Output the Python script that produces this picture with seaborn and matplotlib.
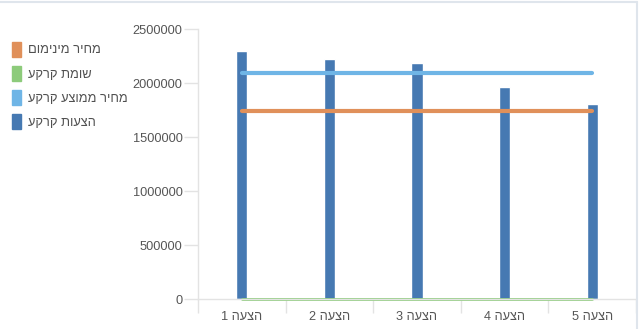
import numpy as np
import pandas as pd
import matplotlib
matplotlib.use("Agg")
import matplotlib.pyplot as plt
import matplotlib.patches as mpatches
import seaborn as sns

# ---- data ----
categories = ["הצעה 1", "הצעה 2", "הצעה 3", "הצעה 4", "הצעה 5"]
bids = [2295000, 2225000, 2185000, 1965000, 1808000]          # הצעות קרקע
avg_price = [2093000, 2093000, 2093000, 2093000, 2093000]     # מחיר ממוצע קרקע
min_price = [1745000, 1745000, 1745000, 1745000, 1745000]     # מחיר מינימום
assessment = [0, 0, 0, 0, 0]                                   # שומת קרקע
yticks = [0, 500000, 1000000, 1500000, 2000000, 2500000]

legend_labels = ["מחיר מינימום", "שומת קרקע", "מחיר ממוצע קרקע", "הצעות קרקע"]

def vis(s):
    # matplotlib has no bidi support: put RTL text into visual order
    return s[::-1]

C_BAR = "#4679B2"
C_AVG = "#6FB5E6"
C_MIN = "#E0905A"
C_ASS = "#8DCB7B"

sns.set_theme(style="white")
plt.rcParams["font.family"] = ["Liberation Sans", "DejaVu Sans"]

fig = plt.figure(figsize=(6.4, 3.29), dpi=100)
ax = fig.add_axes([198/640, 1-299/329, (636-198)/640, (299-29)/329])

df = pd.DataFrame({"cat": [vis(c) for c in categories], "bids": bids})
sns.barplot(data=df, x="cat", y="bids", color=C_BAR, saturation=1,
            width=0.13, ax=ax)

idx = np.arange(len(categories))
sns.lineplot(x=idx, y=avg_price, color=C_AVG, lw=3, ax=ax)
sns.lineplot(x=idx, y=min_price, color=C_MIN, lw=3, ax=ax)
sns.lineplot(x=idx, y=assessment, color=C_ASS, lw=2, ax=ax, clip_on=False)

ax.set_xlim(-0.5, len(categories) - 0.5)
ax.set_ylim(0, 2500000)
ax.set_yticks(yticks)
ax.set_yticklabels([str(v) for v in yticks])
ax.set_xticks(idx)
ax.set_xticklabels([vis(c) for c in categories])
ax.set_xticks(np.arange(len(categories) + 1) - 0.5, minor=True)
ax.set_xlabel("")
ax.set_ylabel("")

for s in ["top", "right"]:
    ax.spines[s].set_visible(False)
for s in ["left", "bottom"]:
    ax.spines[s].set_color("#e3e3e3")
    ax.spines[s].set_linewidth(1)

ax.tick_params(axis="y", which="major", length=10, width=1, color="#e3e3e3",
               labelsize=9.2, labelcolor="#555555", pad=1, left=True)
ax.tick_params(axis="x", which="major", length=0, labelsize=9.2,
               labelcolor="#555555", pad=9)
ax.tick_params(axis="x", which="minor", length=10, width=1, color="#e3e3e3",
               bottom=True)

handles = [mpatches.Patch(color=c) for c in [C_MIN, C_ASS, C_AVG, C_BAR]]
fig.legend(handles, [vis(l) for l in legend_labels], loc="upper left",
           bbox_to_anchor=(0.0, 1 - 30/329), frameon=False, fontsize=9.3,
           handlelength=0.7, handleheight=1.4, handletextpad=0.55,
           labelspacing=0.72, borderaxespad=0.5, labelcolor="#505050")

# panel border (top and right)
fig.add_artist(plt.Line2D([0, 637/640], [1-1.5/329, 1-1.5/329],
                          transform=fig.transFigure, color="#dfe5ec", lw=1.5))
fig.add_artist(plt.Line2D([637/640, 637/640], [0, 1-1.5/329],
                          transform=fig.transFigure, color="#dfe5ec", lw=1.5))

fig.savefig("out.png", dpi=100)
